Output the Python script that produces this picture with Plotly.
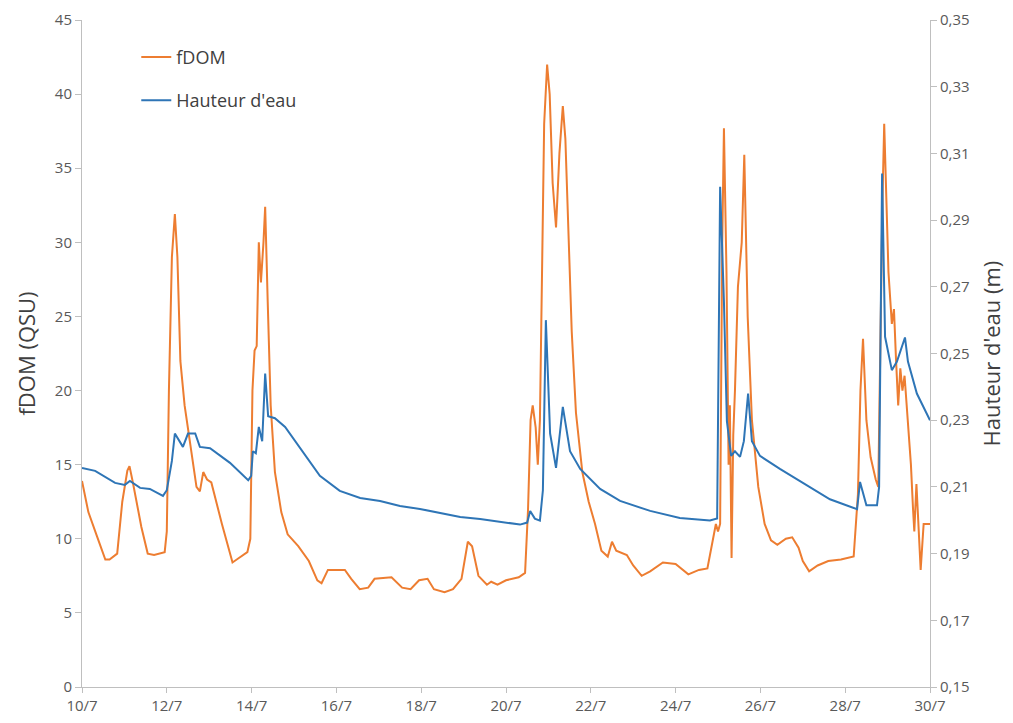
import pandas as pd
import plotly.graph_objects as go

START = pd.Timestamp("2016-07-10")

# fDOM (QSU): time in days since 10/7 and values
fdom_days = [0, 0.15, 0.35, 0.55, 0.65, 0.83, 0.95, 1.07, 1.12, 1.2, 1.4, 1.55, 1.7, 1.95, 2.0, 2.05, 2.12, 2.19,
             2.25, 2.32, 2.42, 2.55, 2.7, 2.78, 2.86, 2.95, 3.05, 3.3, 3.55, 3.7, 3.9, 3.97, 4.02, 4.07, 4.12,
             4.17, 4.22, 4.28, 4.32, 4.38, 4.45, 4.55, 4.7, 4.85, 5.1, 5.35, 5.55, 5.65, 5.8, 6.2, 6.35, 6.55,
             6.75, 6.9, 7.3, 7.55, 7.75, 7.95, 8.15, 8.3, 8.55, 8.75, 8.95, 9.1, 9.2, 9.35, 9.55, 9.65, 9.8,
             10.0, 10.3, 10.45, 10.52, 10.58, 10.63, 10.7, 10.75, 10.8, 10.85, 10.9, 10.97, 11.03, 11.1, 11.18,
             11.26, 11.34, 11.4, 11.48, 11.55, 11.65, 11.8, 11.95, 12.1, 12.25, 12.4, 12.5, 12.6, 12.85, 13.0,
             13.2, 13.4, 13.7, 14.0, 14.3, 14.55, 14.75, 14.85, 14.95, 15.0, 15.05, 15.1, 15.14, 15.2, 15.25,
             15.28, 15.32, 15.36, 15.4, 15.47, 15.5, 15.56, 15.62, 15.7, 15.8, 15.95, 16.1, 16.25, 16.4, 16.6,
             16.75, 16.9, 17.0, 17.15, 17.35, 17.6, 17.9, 18.2, 18.3, 18.36, 18.42, 18.5, 18.6, 18.72, 18.78,
             18.82, 18.88, 18.92, 18.96, 19.02, 19.1, 19.15, 19.2, 19.25, 19.3, 19.35, 19.4, 19.48, 19.55, 19.6,
             19.63, 19.68, 19.72, 19.78, 19.85, 20.0]
fdom_vals = [13.9, 11.8, 10.2, 8.6, 8.6, 9.0, 12.5, 14.6, 14.9, 13.8, 10.8, 9.0, 8.9, 9.1, 10.5, 20, 29, 31.9,
             29, 22, 19, 16.5, 13.5, 13.2, 14.5, 14.0, 13.8, 11, 8.4, 8.7, 9.1, 10, 20, 22.7, 23,
             30, 27.3, 30, 32.4, 26, 19, 14.5, 11.8, 10.3, 9.5, 8.5, 7.2, 7.0, 7.9, 7.9, 7.3, 6.6,
             6.7, 7.3, 7.4, 6.7, 6.6, 7.2, 7.3, 6.6, 6.4, 6.6, 7.3, 9.8, 9.5, 7.5, 6.9, 7.1, 6.9,
             7.2, 7.4, 7.7, 12, 18, 19, 17.5, 15, 18, 30, 38, 42, 40, 34, 31,
             36, 39.2, 37, 30, 24, 18.5, 14.5, 12.5, 11, 9.2, 8.8, 9.8, 9.2, 8.9, 8.2,
             7.5, 7.8, 8.4, 8.3, 7.6, 7.9, 8.0, 9.5, 11, 10.5, 11, 30, 37.7, 28, 15,
             19, 8.7, 17, 20, 27, 28, 30, 35.9, 25, 18, 13.5, 11, 9.9, 9.6, 10.0,
             10.1, 9.4, 8.5, 7.8, 8.2, 8.5, 8.6, 8.8, 13, 20, 23.5, 18, 15.5, 14, 13.5,
             22, 33, 38, 34, 28, 24.5, 25.5, 22, 19, 21.5, 20, 21, 18, 15, 12,
             10.5, 13.7, 11, 7.9, 11, 11]

# Hauteur d'eau (m)
hauteur_days = [0, 0.31, 0.78, 1.01, 1.13, 1.37, 1.6, 1.91, 2.0, 2.12, 2.19, 2.31, 2.38, 2.5, 2.67, 2.78, 3.02,
                3.49, 3.92, 3.99, 4.03, 4.1, 4.17, 4.25, 4.32, 4.39, 4.55, 4.79, 5.14, 5.61, 6.08, 6.56, 7.03,
                7.5, 7.97, 8.44, 8.92, 9.39, 9.86, 10.33, 10.5, 10.57, 10.68, 10.8, 10.87, 10.94, 11.04, 11.18,
                11.34, 11.51, 11.75, 12.22, 12.69, 13.4, 14.1, 14.81, 14.98, 15.05, 15.14, 15.21, 15.31, 15.4,
                15.52, 15.61, 15.71, 15.8, 15.99, 16.23, 16.46, 17.64, 18.28, 18.35, 18.5, 18.75, 18.8, 18.87,
                18.94, 19.1, 19.22, 19.41, 19.48, 19.69, 19.93, 20.0]
hauteur_vals = [0.2157, 0.2148, 0.2112, 0.2106, 0.2118, 0.2097, 0.2094, 0.2073, 0.209, 0.2178, 0.226, 0.2237,
                0.222, 0.226, 0.226, 0.222, 0.2216, 0.2172, 0.212, 0.2133, 0.2207, 0.2201, 0.228, 0.2237, 0.244,
                0.2312, 0.2306, 0.228, 0.2216, 0.2133, 0.2088, 0.2067, 0.2058, 0.2043, 0.2034, 0.2022, 0.201,
                0.2004, 0.1996, 0.1987, 0.1993, 0.2028, 0.2005, 0.1999, 0.209, 0.260, 0.226, 0.2157, 0.234,
                0.2207, 0.2154, 0.2094, 0.2058, 0.2028, 0.2007, 0.1999, 0.2005, 0.300, 0.2655, 0.2297, 0.2193,
                0.2207, 0.219, 0.2237, 0.238, 0.2237, 0.2193, 0.2172, 0.2154, 0.2063, 0.2033, 0.2115, 0.2045,
                0.2045, 0.21, 0.304, 0.255, 0.245, 0.2476, 0.2548, 0.2476, 0.238, 0.2315, 0.230]

tick_days = [0, 2, 4, 6, 8, 10, 12, 14, 16, 18, 20]
tick_labels = ["10/7", "12/7", "14/7", "16/7", "18/7", "20/7", "22/7", "24/7", "26/7", "28/7", "30/7"]
h_ticks = [0.15, 0.17, 0.19, 0.21, 0.23, 0.25, 0.27, 0.29, 0.31, 0.33, 0.35]

def to_dates(days):
    return [START + pd.Timedelta(days=d) for d in days]

fig = go.Figure()
fig.add_trace(go.Scatter(x=to_dates(fdom_days), y=fdom_vals, name="fDOM", mode="lines",
                         line=dict(color="#ED7D31", width=2), legendgroup="a"))
fig.add_trace(go.Scatter(x=to_dates(hauteur_days), y=hauteur_vals, name="Hauteur d'eau", mode="lines",
                         line=dict(color="#2E75B6", width=2), yaxis="y2", legendgroup="b"))

FONT = "Open Sans, Lato, sans-serif"
axis_col = "#BFBFBF"
tick_font = dict(family=FONT, size=15, color="#595959")
title_font = dict(family=FONT, size=22, color="#404040")

fig.update_layout(
    width=1005, height=715,
    margin=dict(l=74, r=83, t=12, b=36),
    paper_bgcolor="white", plot_bgcolor="white",
    separators=", ",
    showlegend=True,
    legend=dict(x=0.064, y=0.972, xanchor="left", yanchor="top", bgcolor="rgba(0,0,0,0)",
                font=dict(family=FONT, size=18, color="#404040"),
                tracegroupgap=17),
    xaxis=dict(range=[START, START + pd.Timedelta(days=20)], tickvals=to_dates(tick_days),
               ticktext=tick_labels, showgrid=False, zeroline=False, showline=True, linecolor=axis_col,
               linewidth=1, ticks="outside", tickcolor=axis_col, ticklen=5, tickfont=tick_font,
               automargin=False, ticklabeloverflow="allow"),
    yaxis=dict(range=[0, 45], dtick=5, showgrid=False, zeroline=False, showline=True, linecolor=axis_col,
               linewidth=1, ticks="outside", tickcolor=axis_col, ticklen=6, tickfont=tick_font,
               automargin=False, ticklabeloverflow="allow",
               title=dict(text="fDOM (QSU)", font=title_font, standoff=13)),
    yaxis2=dict(range=[0.15, 0.35], tickvals=h_ticks, tickformat=".2f", overlaying="y", side="right",
                showgrid=False, zeroline=False, showline=True, linecolor=axis_col, linewidth=1,
                ticks="outside", tickcolor=axis_col, ticklen=6, tickfont=tick_font, automargin=False,
                ticklabeloverflow="allow",
                title=dict(text="Hauteur d'eau (m)", font=title_font, standoff=15)),
)

fig.write_html("out.html")
